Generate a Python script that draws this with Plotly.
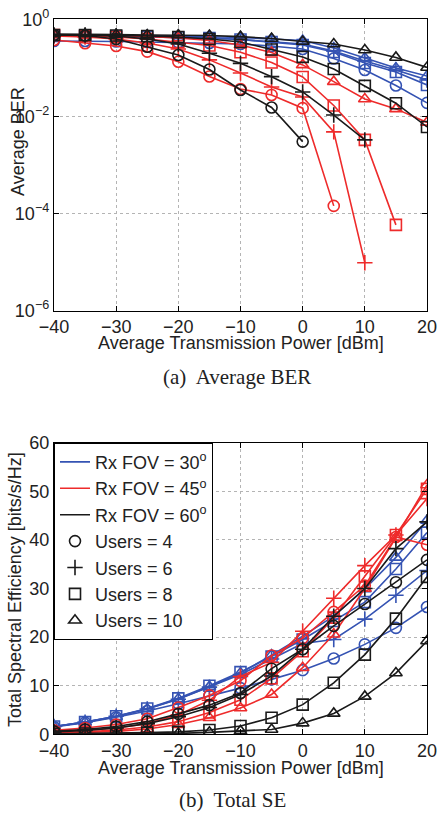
import plotly.graph_objects as go

# ---------------- data ----------------
power_dbm = [-40, -35, -30, -25, -20, -15, -10, -5, 0, 5, 10, 15, 20]

# (a) Average BER
ber_fov30_u4 = [0.357, 0.357, 0.349, 0.341, 0.333, 0.325, 0.310, 0.282, 0.245, 0.156, 0.0905, 0.0434, 0.019]
ber_fov30_u6 = [0.453, 0.453, 0.442, 0.432, 0.422, 0.412, 0.384, 0.349, 0.310, 0.223, 0.139, 0.0905, 0.0564]
ber_fov30_u8 = [0.453, 0.453, 0.442, 0.432, 0.422, 0.412, 0.384, 0.341, 0.296, 0.212, 0.126, 0.0824, 0.0445]
ber_fov30_u10 = [0.475, 0.475, 0.464, 0.464, 0.453, 0.442, 0.422, 0.393, 0.366, 0.257, 0.160, 0.0995, 0.0681]

ber_fov45_u4 = [0.375, 0.321, 0.282, 0.216, 0.134, 0.0665, 0.0368, 0.0277, 0.0148, 1.44e-4, None, None, None]
ber_fov45_u6 = [0.453, 0.432, 0.393, 0.325, 0.245, 0.146, 0.0785, 0.0405, 0.0252, 0.0048, 9.7e-6, None, None]
ber_fov45_u8 = [0.475, 0.453, 0.432, 0.393, 0.341, 0.289, 0.209, 0.129, 0.065, 0.0168, 0.00329, 5.85e-5, None]
ber_fov45_u10 = [0.475, 0.475, 0.464, 0.442, 0.412, 0.366, 0.296, 0.207, 0.115, 0.052, 0.0229, 0.0143, 0.00753]

ber_fov60_u4 = [0.475, 0.464, 0.393, 0.273, 0.184, 0.0927, 0.0351, 0.0153, 0.00303, None, None, None, None]
ber_fov60_u6 = [0.475, 0.475, 0.453, 0.393, 0.310, 0.200, 0.124, 0.0659, 0.0319, 0.0107, 0.00329, None, None]
ber_fov60_u8 = [0.475, 0.475, 0.464, 0.453, 0.432, 0.393, 0.341, 0.239, 0.168, 0.0949, 0.0425, 0.0187, 0.00608]
ber_fov60_u10 = [0.499, 0.499, 0.486, 0.475, 0.475, 0.464, 0.439, 0.403, 0.349, 0.310, 0.234, 0.164, 0.102]

# (b) Total spectral efficiency [bits/s/Hz]
se_fov30_u4 = [1.5, 2.4, 3.5, 4.8, 6.3, 7.9, 9.5, 11.3, 13.2, 15.6, 18.5, 21.9, 26.2]
se_fov30_u6 = [1.6, 2.5, 3.7, 5.2, 7.2, 9.7, 12.3, 15.5, 18.7, 19.5, 23.7, 28.6, 33.7]
se_fov30_u8 = [1.6, 2.5, 3.7, 5.3, 7.4, 10.0, 12.8, 16.0, 19.5, 23.3, 27.2, 34.0, 41.5]
se_fov30_u10 = [1.6, 2.5, 3.6, 5.2, 7.3, 9.8, 12.6, 16.3, 20.2, 24.3, 29.9, 36.4, 44.0]

se_fov45_u4 = [0.8, 1.3, 2.0, 3.2, 5.5, 8.0, 11.0, 16.2, 19.8, 25.2, 30.6, 40.6, 39.0]
se_fov45_u6 = [0.5, 0.8, 1.3, 2.2, 4.0, 7.0, 11.9, 14.8, 21.2, 28.0, 34.7, 41.0, 48.5]
se_fov45_u8 = [0.3, 0.5, 0.9, 1.5, 2.6, 4.5, 7.1, 11.5, 17.1, 24.0, 32.5, 41.0, 50.5]
se_fov45_u10 = [0.2, 0.35, 0.6, 1.1, 2.0, 3.4, 5.4, 8.2, 13.7, 20.6, 30.0, 40.5, 51.3]

se_fov60_u4 = [0.6, 1.0, 1.6, 2.6, 4.2, 6.0, 8.5, 13.5, 17.5, 22.3, 26.8, 31.3, 35.9]
se_fov60_u6 = [0.5, 0.8, 1.3, 2.2, 3.6, 5.5, 8.2, 12.0, 17.5, 24.3, 30.0, 38.2, 43.7]
se_fov60_u8 = [0.1, 0.15, 0.2, 0.35, 0.5, 0.9, 1.7, 3.4, 6.1, 10.6, 16.4, 23.8, 32.4]
se_fov60_u10 = [0.05, 0.07, 0.1, 0.15, 0.2, 0.4, 0.7, 1.0, 2.3, 4.3, 7.8, 12.6, 19.2]

fov_labels = ["Rx FOV = 30<sup>o</sup>", "Rx FOV = 45<sup>o</sup>", "Rx FOV = 60<sup>o</sup>"]
user_labels = ["Users = 4", "Users = 6", "Users = 8", "Users = 10"]
x_ticks = [-40, -30, -20, -10, 0, 10, 20]
ber_tickvals = [1, 1e-2, 1e-4, 1e-6]
ber_ticktext = ["10<sup>0</sup>", "10<sup>\u22122</sup>", "10<sup>\u22124</sup>", "10<sup>\u22126</sup>"]
se_ticks = [0, 10, 20, 30, 40, 50, 60]

# ---------------- styles ----------------
colors = ["#3553b3", "#ee2b2b", "#1a1a1a"]
symbols = ["circle-open", "cross-thin-open", "square-open", "triangle-up-open"]

ber_sets = [
    [ber_fov30_u4, ber_fov30_u6, ber_fov30_u8, ber_fov30_u10],
    [ber_fov45_u4, ber_fov45_u6, ber_fov45_u8, ber_fov45_u10],
    [ber_fov60_u4, ber_fov60_u6, ber_fov60_u8, ber_fov60_u10],
]
se_sets = [
    [se_fov30_u4, se_fov30_u6, se_fov30_u8, se_fov30_u10],
    [se_fov45_u4, se_fov45_u6, se_fov45_u8, se_fov45_u10],
    [se_fov60_u4, se_fov60_u6, se_fov60_u8, se_fov60_u10],
]

fig = go.Figure()

def add_series(yvals, color, symbol, xa, ya):
    fig.add_trace(go.Scatter(
        x=power_dbm, y=yvals, mode="lines+markers", xaxis=xa, yaxis=ya,
        line=dict(color=color, width=1.6),
        marker=dict(symbol=symbol, size=11, color=color,
                    line=dict(color=color, width=1.6)),
        showlegend=False, connectgaps=False, cliponaxis=True,
    ))

for fi in range(3):
    for ui in range(4):
        add_series(ber_sets[fi][ui], colors[fi], symbols[ui], "x", "y")
        add_series(se_sets[fi][ui], colors[fi], symbols[ui], "x2", "y2")

# legend entries
for fi in range(3):
    fig.add_trace(go.Scatter(x=[None], y=[None], mode="lines", xaxis="x2", yaxis="y2",
                             line=dict(color=colors[fi], width=1.6),
                             name=fov_labels[fi], showlegend=True))
for ui in range(4):
    fig.add_trace(go.Scatter(x=[None], y=[None], mode="markers", xaxis="x2", yaxis="y2",
                             marker=dict(symbol=symbols[ui], size=11, color="#1a1a1a",
                                         line=dict(color="#1a1a1a", width=1.6)),
                             name=user_labels[ui], showlegend=True))

W, H = 438, 814
def px_x(p):
    return p / W
def px_y(p):
    return 1 - p / H

xdom = [px_x(54), px_x(427)]
font_main = "Liberation Sans, Arial, Helvetica, sans-serif"

axis_common = dict(
    showline=True, linecolor="black", linewidth=1.3, mirror="ticks",
    ticks="inside", ticklen=5, tickwidth=1, tickcolor="black",
    showgrid=True, gridcolor="#b4b4b4", griddash="dot", gridwidth=1,
    zeroline=False, tickfont=dict(size=18, color="#222"), automargin=False,
)

fig.update_layout(
    width=W, height=H,
    margin=dict(l=0, r=0, t=0, b=0),
    paper_bgcolor="white", plot_bgcolor="white",
    font=dict(family=font_main, size=18, color="#222"),
    xaxis=dict(domain=xdom, anchor="y", range=[-40, 20], tickvals=x_ticks, **axis_common),
    yaxis=dict(domain=[px_y(310.7), px_y(19.3)], anchor="x", type="log", range=[-6, 0],
               tickvals=ber_tickvals, ticktext=ber_ticktext, **axis_common),
    xaxis2=dict(domain=xdom, anchor="y2", range=[-40, 20], tickvals=x_ticks, **axis_common),
    yaxis2=dict(domain=[px_y(734.3), px_y(442.7)], anchor="x2", range=[0, 60],
                tickvals=se_ticks, **axis_common),
    legend=dict(x=px_x(54), y=px_y(442.7), xanchor="left", yanchor="top",
                bgcolor="white", bordercolor="black", borderwidth=1,
                font=dict(size=18, color="#222"), tracegroupgap=0, itemwidth=30),
)

ann = [
    dict(text="Average Transmission Power [dBm]", x=px_x(240.5), y=px_y(343)),
    dict(text="Average Transmission Power [dBm]", x=px_x(240.5), y=px_y(768)),
    dict(text="Average BER", x=px_x(18.5), y=px_y(141.5), textangle=-90),
    dict(text="Total Spectral Efficiency [bits/s/Hz]", x=px_x(15), y=px_y(590), textangle=-90),
]
for a in ann:
    fig.add_annotation(xref="paper", yref="paper", showarrow=False,
                       xanchor="center", yanchor="middle",
                       font=dict(size=18, color="#222", family=font_main), **a)

cap_font = dict(family="Liberation Serif, Times New Roman, serif", size=21, color="#222")
fig.add_annotation(text="(a)  Average BER", x=px_x(237), y=px_y(377), xref="paper", yref="paper",
                   showarrow=False, xanchor="center", yanchor="middle", font=cap_font)
fig.add_annotation(text="(b)  Total SE", x=px_x(232), y=px_y(800), xref="paper", yref="paper",
                   showarrow=False, xanchor="center", yanchor="middle", font=cap_font)

fig.write_html("out.html")
